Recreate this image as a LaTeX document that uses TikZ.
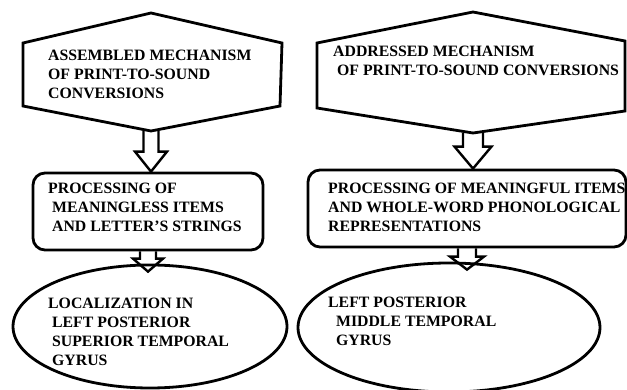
\documentclass[tikz,border=0pt]{standalone}
\usepackage{fontspec}
\setmainfont{Liberation Serif}
\usetikzlibrary{calc,shapes.geometric}

\tikzset{
  box/.style={draw, line width=2.8pt, rounded corners=12pt, minimum height=77pt, inner sep=0pt},
  oval/.style={draw, ellipse, line width=2.8pt, inner sep=0pt},
  hexa/.style={line width=2.8pt, line join=miter},
  blockarr/.style={line width=2.4pt, line join=miter},
  txt/.style={align=left, anchor=north west, inner sep=0pt, font=\bfseries\fontsize{15.8}{19}\selectfont}
}

% hollow block arrow: from, to, shaft half width, head half width, head length
\newcommand{\hollowarrow}[5]{%
  \draw[blockarr] let \p1=(#1), \p2=(#2) in
    (\x1-#3,\y1) -- (\x1-#3,\y2+#5) -- (\x1-#4,\y2+#5) -- (\x1,\y2)
    -- (\x1+#4,\y2+#5) -- (\x1+#3,\y2+#5) -- (\x1+#3,\y1);
}

\begin{document}
\begin{tikzpicture}[x=1pt,y=-1pt]
	\useasboundingbox (0,0) rectangle (627,390);

	% hexagons
	\draw[hexa] (23,43) -- (151,13) -- (282,43) -- (280,106) -- (151,131) -- (23,106) -- cycle;
	\coordinate (asmtip) at (151,131);
	\draw[hexa] (317,43) -- (473,12) -- (625,41) -- (625,111) -- (473,133) -- (317,108) -- cycle;
	\coordinate (adrtip) at (473,133);

	\node[txt] (asmtxt) at (48,49.5) {ASSEMBLED MECHANISM\\OF PRINT-TO-SOUND\\CONVERSIONS};
	\node[txt] (adrtxt) at (333,46) {ADDRESSED MECHANISM\\\ OF PRINT-TO-SOUND CONVERSIONS};

	% processing boxes
	\node[box, minimum width=230pt] (procA) at (148,211.5) {};
	\node[box, minimum width=318pt] (procB) at (467,208.5) {};

	\node[txt] (procAtxt) at (48,182.5) {PROCESSING OF\\\ MEANINGLESS ITEMS\\\ AND LETTER'S STRINGS};
	\node[txt] (procBtxt) at (328,182.5) {PROCESSING OF MEANINGFUL ITEMS\\AND WHOLE-WORD PHONOLOGICAL\\REPRESENTATIONS};

	% localization ovals
	\node[oval, minimum width=274pt, minimum height=123pt] (locA) at (150,326.5) {};
	\node[oval, minimum width=302pt, minimum height=129pt] (locB) at (449,327.5) {};

	\node[txt] (locAtxt) at (48,297.5) {LOCALIZATION IN\\\ LEFT POSTERIOR\\\ SUPERIOR TEMPORAL\\\ GYRUS};
	\node[txt] (locBtxt) at (328,296.5) {LEFT POSTERIOR\\\ \ MIDDLE TEMPORAL\\\ \ GYRUS};

	% arrows
	\hollowarrow{asmtip}{procA.north}{7.5pt}{16pt}{20pt}
	\hollowarrow{adrtip}{procB.north}{10pt}{18.5pt}{22pt}
	\hollowarrow{procA.south}{[yshift=-8pt]locA.north}{8pt}{15pt}{13pt}
	\hollowarrow{procB.south}{[yshift=-8pt]locB.north}{9pt}{17pt}{13pt}
\end{tikzpicture}
\end{document}
